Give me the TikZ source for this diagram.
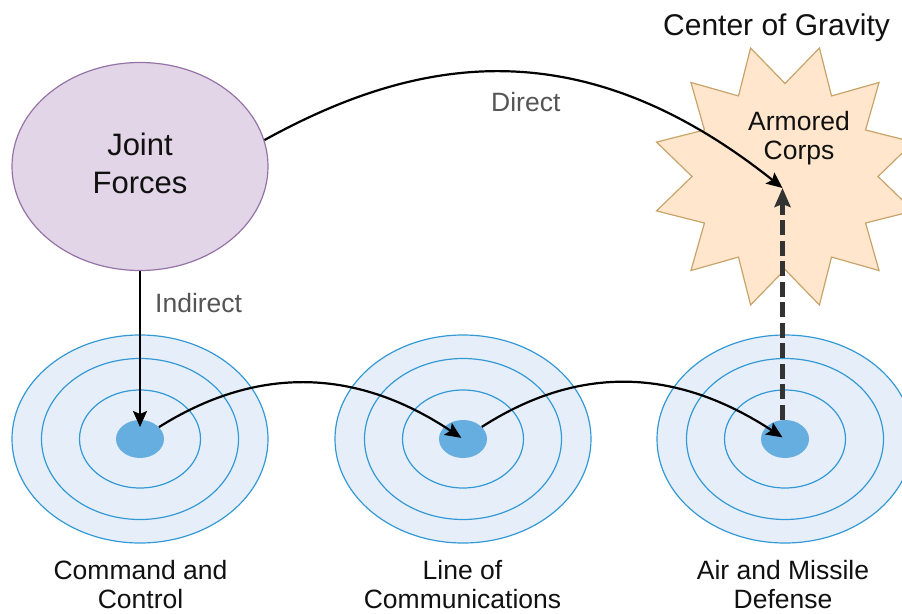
\documentclass[tikz,border=0pt]{standalone}
\usepackage{fontspec}
\setmainfont{Liberation Sans}
\usetikzlibrary{shapes.geometric,arrows.meta}
\definecolor{jffill}{HTML}{E1D5E7}
\definecolor{jfdraw}{HTML}{9673A6}
\definecolor{starfill}{HTML}{FFE6CC}
\definecolor{stardraw}{HTML}{C9A46A}
\definecolor{tgtfill}{HTML}{E6EFF9}
\definecolor{ringblue}{HTML}{3399D6}
\definecolor{dotblue}{HTML}{67AEE0}
\definecolor{dkgray}{HTML}{333333}
\definecolor{lblgray}{HTML}{555555}
\definecolor{txtcol}{HTML}{111111}
\begin{document}
\begin{tikzpicture}[x=1pt,y=-1pt,
  ring/.style={ellipse, draw=ringblue, line width=1.2pt, inner sep=0pt},
  outerring/.style={ring, fill=tgtfill},
  bullseye/.style={ellipse, fill=dotblue, inner sep=0pt, minimum width=48pt, minimum height=38pt},
  arr/.style={line width=2.2pt, draw=black, -{Stealth[length=16pt,width=14pt,inset=3pt]}},
  dasharr/.style={line width=4.5pt, draw=dkgray, dash pattern=on 15pt off 5.5pt,
    -{Stealth[length=19pt,width=16pt,inset=3pt]}},
  lbl/.style={font=\fontsize{26.5}{29}\selectfont, text=txtcol, align=center, inner sep=0pt},
  edgelbl/.style={font=\fontsize{26.5}{29}\selectfont, text=lblgray, inner sep=0pt}]
\useasboundingbox (0,0) rectangle (902,613);
\clip (0,0) rectangle (902,613);

% Joint Forces
\node[ellipse, draw=jfdraw, fill=jffill, line width=1.2pt, inner sep=0pt,
      minimum width=256pt, minimum height=208pt] (jf) at (140,166.5) {};
\node[lbl, font=\fontsize{31}{38}\selectfont] (jftxt) at (140,163) {Joint\\Forces};

% Center of gravity star
\node[star, star points=12, star point ratio=1.43, shape border rotate=15,
      minimum size=266pt, inner sep=0pt, draw=stardraw, fill=starfill, line width=1.2pt]
      (star) at (785,176.5) {};
\node[lbl] (startxt) at (799,138) {Armored\\Corps};
\node[inner sep=0pt, anchor=base west, font=\fontsize{30}{36}\selectfont, text=txtcol]
      (cog) at (663,35) {Center of Gravity};

% Targets
\foreach \i/\x in {1/140,2/463,3/785} {
  \node[outerring, minimum width=256pt, minimum height=208pt] (t\i) at (\x,439) {};
  \node[ring, minimum width=197pt, minimum height=161pt] (m\i) at (\x,439) {};
  \node[ring, minimum width=121pt, minimum height=98pt] (r\i) at (\x,439) {};
  \node[bullseye] (d\i) at (\x,439) {};
}
\node[lbl] (l1) at (140.5,585) {Command and\\Control};
\node[lbl] (l2) at (462.5,585) {Line of\\Communications};
\node[lbl] (l3) at (783,585) {Air and Missile\\Defense};

% Connectors
\coordinate (hit) at (782.5,188);
\draw[arr] (jf.12) .. controls (415,57) and (579,26) .. (hit);
\node[edgelbl, anchor=base west] (direct) at (491,111) {Direct};
\draw[arr, shorten >=12pt] (jf) -- (d1.center);
\node[edgelbl, anchor=base west] (indirect) at (155,312) {Indirect};
\draw[arr, shorten >=2pt] (d1) .. controls (253,368) and (352,365) .. (d2.center);
\draw[arr, shorten >=3pt] (d2) .. controls (575,367) and (672,365) .. (d3.center);
\draw[dasharr] (d3.north -| hit) -- (hit);
\end{tikzpicture}
\end{document}
